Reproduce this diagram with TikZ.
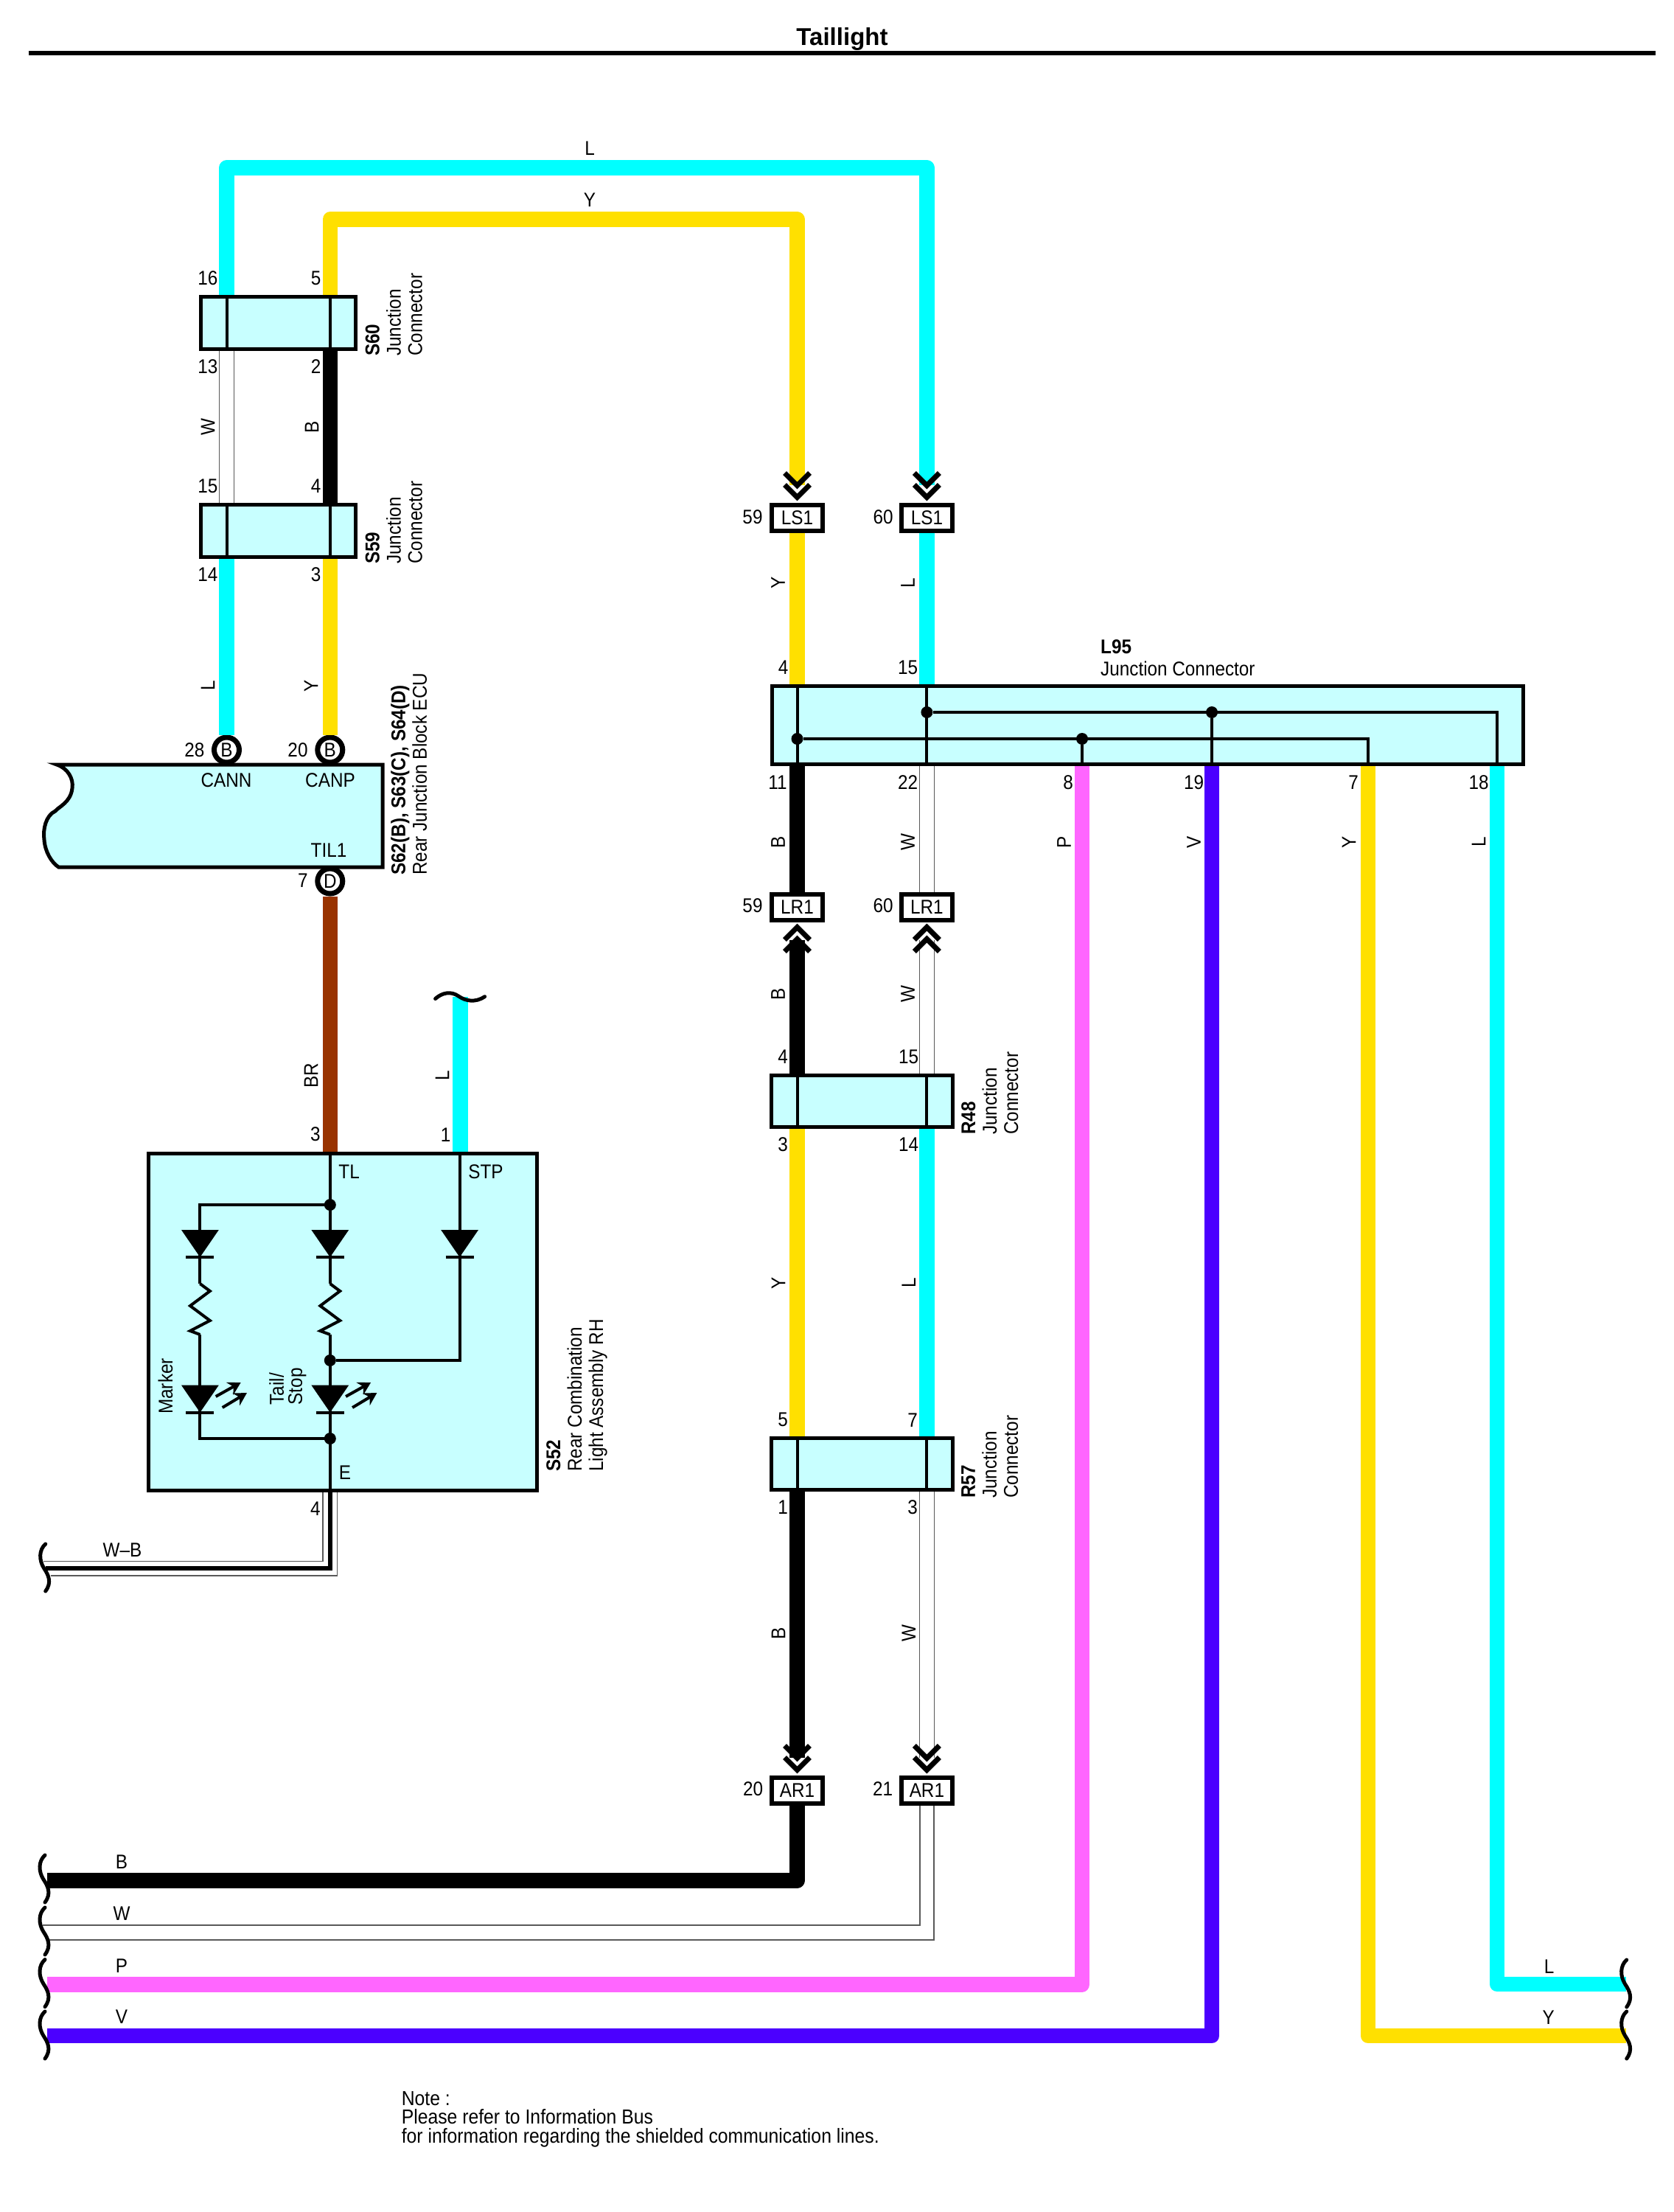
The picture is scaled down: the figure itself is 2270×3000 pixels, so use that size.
\documentclass[tikz,border=0pt]{standalone}
\usepackage{fontspec}
\setmainfont[FakeStretch=0.9]{Liberation Sans}
\newfontfamily\headfont{Liberation Sans}
\usetikzlibrary{arrows.meta}
\definecolor{wirecyan}{HTML}{00FFFF}
\definecolor{wireyellow}{HTML}{FFE000}
\definecolor{wirebrown}{HTML}{993300}
\definecolor{wirepink}{HTML}{FF66FF}
\definecolor{wireviolet}{HTML}{4B00FF}
\definecolor{boxfill}{HTML}{C8FFFF}
\begin{document}
\begin{tikzpicture}[x=1pt,y=-1pt,
    every node/.style = {inner sep=0pt,font=\fontsize{27}{29}\selectfont},
    wire/.style = {line width=20.5pt,line join=round},
    lwire/.style = {wire,wirecyan},
    ywire/.style = {wire,wireyellow},
    bwire/.style = {wire,black},
    brwire/.style = {wire,wirebrown},
    pwire/.style = {wire,wirepink},
    vwire/.style = {wire,wireviolet},
    wwire/.style = {draw=black!65,line width=1.6pt,double=white,double distance=18.5pt},
    thinwire/.style = {black!65,line width=1.6pt},
    inner/.style = {line width=4pt},
    jbox/.style = {draw,line width=5pt,fill=boxfill},
    plug/.style = {draw,line width=6pt,fill=white,minimum width=69pt,minimum height=35pt},
    pinhole/.style = {circle,draw,line width=7pt,fill=white,minimum size=34pt},
    dot/.style = {circle,fill=black,minimum size=16pt},
    wl/.style = {rotate=90},
    side/.style = {rotate=90,anchor=north west,align=left},
    chevdown/.pic = {
        \draw[line width=7pt] (-17,-24) -- (0,-7) -- (17,-24);
        \draw[line width=7pt] (-17,-40) -- (0,-23) -- (17,-40);
    },
    chevup/.pic = {
        \draw[line width=7pt] (-17,24) -- (0,7) -- (17,24);
        \draw[line width=7pt] (-17,40) -- (0,23) -- (17,40);
    },
    diode/.pic = {
        \fill (-25.4,0) -- (25.4,0) -- (0,37) -- cycle;
        \draw[inner] (-19,37) -- (19,37);
    },
    shine/.pic = {
        \draw[line width=4pt,-{Stealth[length=17pt,width=19pt]}] (21.3,15.4) -- (55.3,-3.6);
        \draw[line width=4pt,-{Stealth[length=17pt,width=19pt]}] (30.3,30.4) -- (63.6,10.4);
    },
    cutmark/.pic = {
        \draw[line width=5pt,line cap=round] (0,0) .. controls (-9,8) and (-9,22) .. (-2,33)
            .. controls (4,42) and (9,52) .. (0,64);
    }]
    \useasboundingbox (0,0) rectangle (2270,3000);

    % title
    \node[font=\fontsize{33}{36}\headfont\bfseries] (title) at (1142.5,53) {Taillight};
    \coordinate (ruleL) at (38.5,72.5);
    \coordinate (ruleR) at (2246,72.5);
    \draw[line width=6pt] (ruleL) -- (ruleR);

    % columns
    \coordinate (colA) at (307.5,0);
    \coordinate (colB) at (447.8,0);
    \coordinate (colC) at (623.6,0);
    \coordinate (colD) at (1081.5,0);
    \coordinate (colE) at (1257.4,0);
    \coordinate (colF) at (1468,0);
    \coordinate (colG) at (1644,0);
    \coordinate (colH) at (1856,0);
    \coordinate (colI) at (2031,0);

    % boxes
    \node[jbox,minimum width=210pt,minimum height=71pt] (S60) at (377.5,438) {};
    \node[jbox,minimum width=210pt,minimum height=71pt] (S59) at (377.5,719.5) {};
    \node[jbox,minimum width=246pt,minimum height=70pt] (R48) at (1169.5,1493.5) {};
    \node[jbox,minimum width=246pt,minimum height=70pt] (R57) at (1169.5,1985.8) {};
    \node[jbox,minimum width=1019pt,minimum height=106pt] (L95) at (1557,983.5) {};
    \node[jbox,minimum width=527.5pt,minimum height=456.5pt] (S52) at (465.2,1792.8) {};
    \draw[jbox] (519,1037) -- (77,1037) .. controls (92,1042) and (100,1056) .. (98,1069)
        .. controls (96,1088) and (80,1094) .. (75,1100) .. controls (62,1106) and (58,1125) .. (60,1139)
        .. controls (61,1155) and (70,1170) .. (79.5,1176) -- (519,1176) -- cycle;

    % plugs
    \node[plug] (LS1a) at (1081.5,702) {LS1};
    \node[plug] (LS1b) at (1257.4,702) {LS1};
    \node[plug] (LR1a) at (1081.5,1230) {LR1};
    \node[plug] (LR1b) at (1257.4,1230) {LR1};
    \node[plug] (AR1a) at (1081.5,2428) {AR1};
    \node[plug] (AR1b) at (1257.4,2428) {AR1};
    \node[pinhole] (pinB1) at (307.5,1017) {B};
    \node[pinhole] (pinB2) at (447.8,1017) {B};
    \node[pinhole] (pinD) at (447.8,1195) {D};

    % wire corners
    \coordinate (cyanTL) at (307.5,227.5);
    \coordinate (cyanTR) at (1257.4,227.5);
    \coordinate (yelTL) at (447.8,297.5);
    \coordinate (yelTR) at (1081.5,297.5);
    \coordinate (LS1aIn) at ([yshift=24pt]LS1a.north);
    \coordinate (LS1bIn) at ([yshift=24pt]LS1b.north);
    \coordinate (AR1aIn) at ([yshift=24pt]AR1a.north);
    \coordinate (AR1bIn) at ([yshift=24pt]AR1b.north);
    \coordinate (LR1aIn) at ([yshift=-24pt]LR1a.south);
    \coordinate (LR1bIn) at ([yshift=-24pt]LR1b.south);
    \coordinate (cutL) at (624.6,1352);
    \coordinate (blackEnd) at (64,2550.3);
    \coordinate (pinkEnd) at (64,2691.3);
    \coordinate (violetEnd) at (64,2761);
    \coordinate (cyanEnd) at (2206,2691);
    \coordinate (yelEnd) at (2206,2761);

    % wires
    \draw[lwire] (colA |- S60.north) -- (cyanTL) -- (cyanTR) -- (LS1bIn);
    \draw[ywire] (colB |- S60.north) -- (yelTL) -- (yelTR) -- (LS1aIn);
    \draw[wwire] (colA |- S60.south) -- (colA |- S59.north);
    \draw[bwire] (colB |- S60.south) -- (colB |- S59.north);
    \draw[lwire] (colA |- S59.south) -- (pinB1.north);
    \draw[ywire] (colB |- S59.south) -- (pinB2.north);
    \draw[brwire] (pinD.south) -- (colB |- S52.north);
    \draw[lwire] (cutL) -- (cutL |- S52.north);
    \draw[ywire] (LS1a.south) -- (colD |- L95.north);
    \draw[lwire] (LS1b.south) -- (colE |- L95.north);
    \draw[bwire] (colD |- L95.south) -- (LR1a.north);
    \draw[wwire] (colE |- L95.south) -- (LR1b.north);
    \draw[bwire] (LR1aIn) -- (colD |- R48.north);
    \draw[wwire] (LR1bIn) -- (colE |- R48.north);
    \draw[ywire] (colD |- R48.south) -- (colD |- R57.north);
    \draw[lwire] (colE |- R48.south) -- (colE |- R57.north);
    \draw[bwire] (colD |- R57.south) -- (AR1aIn);
    \draw[wwire] (colE |- R57.south) -- (AR1bIn);
    \draw[bwire] (AR1a.south) -- (colD |- blackEnd) -- (blackEnd);
    \draw[pwire] (colF |- L95.south) -- (colF |- pinkEnd) -- (pinkEnd);
    \draw[vwire] (colG |- L95.south) -- (colG |- violetEnd) -- (violetEnd);
    \draw[ywire] (colH |- L95.south) -- (colH |- yelEnd) -- (yelEnd);
    \draw[lwire] (colI |- L95.south) -- (colI |- cyanEnd) -- (cyanEnd);

    % chevrons
    \pic at (LS1a.north) {chevdown};
    \pic at (LS1b.north) {chevdown};
    \pic at (AR1a.north) {chevdown};
    \pic at (AR1b.north) {chevdown};
    \pic at (LR1a.south) {chevup};
    \pic at (LR1b.south) {chevup};

    % white lines with slanted ends
    \coordinate (arUp) at (1248,0);
    \coordinate (arDn) at (1267,0);
    \coordinate (whiteA) at (58,2611);
    \coordinate (whiteB) at (67,2630.7);
    \draw[thinwire] (AR1b.south -| arUp) |- (whiteA);
    \draw[thinwire] (AR1b.south -| arDn) |- (whiteB);
    \coordinate (gndUp) at (438,0);
    \coordinate (gndDn) at (457.6,0);
    \coordinate (gndA) at (59,2117.3);
    \coordinate (gndB) at (62,2127);
    \coordinate (gndC) at (69,2137);
    \draw[thinwire] (S52.south -| gndUp) |- (gndA);
    \draw[thinwire] (S52.south -| gndDn) |- (gndC);
    \draw[line width=5.5pt] (colB |- S52.south) |- (gndB);

    % inside the plug boxes
    \draw[inner] (colA |- S60.north) -- (colA |- S60.south);
    \draw[inner] (colB |- S60.north) -- (colB |- S60.south);
    \draw[inner] (colA |- S59.north) -- (colA |- S59.south);
    \draw[inner] (colB |- S59.north) -- (colB |- S59.south);
    \draw[inner] (colD |- R48.north) -- (colD |- R48.south);
    \draw[inner] (colE |- R48.north) -- (colE |- R48.south);
    \draw[inner] (colD |- R57.north) -- (colD |- R57.south);
    \draw[inner] (colE |- R57.north) -- (colE |- R57.south);

    % inside L95
    \node[dot] (d95a) at (1081.5,1002) {};
    \node[dot] (d95b) at (1257.4,966) {};
    \node[dot] (d95c) at (1468,1002) {};
    \node[dot] (d95d) at (1644,966) {};
    \draw[inner] (colD |- L95.north) -- (colD |- L95.south);
    \draw[inner] (colE |- L95.north) -- (colE |- L95.south);
    \draw[inner] (d95c) -- (colF |- L95.south);
    \draw[inner] (d95d) -- (colG |- L95.south);
    \draw[inner] (d95a) -| (colH |- L95.south);
    \draw[inner] (d95b) -| (colI |- L95.south);

    % inside S52
    \coordinate (branch) at (271.4,0);
    \node[dot] (tlDot) at (447.8,1634) {};
    \node[dot] (stpDot) at (447.8,1845) {};
    \node[dot] (eDot) at (447.8,1951) {};
    \coordinate (res1top) at (271.4,1741);
    \coordinate (res1bot) at (271.4,1810);
    \coordinate (res2top) at (447.8,1741);
    \coordinate (res2bot) at (447.8,1810);
    \draw[inner] (colB |- S52.north) -- (res2top);
    \draw[inner] (res2top) -- ++(13.4,10) -- ++(-26.8,20) -- ++(26.8,20) -- ++(-26.8,14) -- (res2bot);
    \draw[inner] (res2bot) -- (colB |- S52.south);
    \draw[inner] (tlDot) -| (res1top);
    \draw[inner] (res1top) -- ++(13.4,10) -- ++(-26.8,20) -- ++(26.8,20) -- ++(-26.8,14) -- (res1bot);
    \draw[inner] (res1bot) |- (eDot);
    \draw[inner] (colC |- S52.north) |- (stpDot);
    \pic at (271.4,1668) {diode};
    \pic at (447.8,1668) {diode};
    \pic at (623.6,1668) {diode};
    \pic at (271.4,1878.6) {diode};
    \pic at (447.8,1878.6) {diode};
    \pic at (271.4,1878.6) {shine};
    \pic at (447.8,1878.6) {shine};

    % cuts
    \draw[line width=5pt,line cap=round] (590.6,1354.5) .. controls (600,1346) and (612,1344) .. (622,1351)
        .. controls (632,1358) and (645,1360) .. (657.6,1351.7);
    \pic at (61.7,2094) {cutmark};
    \pic at (61,2516) {cutmark};
    \pic at (61,2587) {cutmark};
    \pic at (61,2657.6) {cutmark};
    \pic at (61,2728) {cutmark};
    \pic at (2206.7,2658) {cutmark};
    \pic at (2206.7,2728) {cutmark};

    % pin numbers
    \node (n16) at (282,377) {16};
    \node (n5) at (428.6,377) {5};
    \node (n13) at (282,497) {13};
    \node (n2) at (428.6,497) {2};
    \node (n15) at (282,659) {15};
    \node (n4) at (428.6,659) {4};
    \node (n14) at (282,779) {14};
    \node (n3) at (428.6,779) {3};
    \node (n28) at (264,1017) {28};
    \node (n20) at (404,1017) {20};
    \node (n7) at (411,1194) {7};
    \node (n3b) at (428,1538) {3};
    \node (n1) at (604.5,1539) {1};
    \node (n4b) at (428,2046) {4};
    \node (n59a) at (1021,701) {59};
    \node (n60a) at (1198,701) {60};
    \node (n4c) at (1062.5,905.7) {4};
    \node (n15c) at (1231.6,905.7) {15};
    \node (n11) at (1055,1061) {11};
    \node (n22) at (1231.6,1061) {22};
    \node (n8) at (1449,1061) {8};
    \node (n19) at (1619.6,1061) {19};
    \node (n7c) at (1836,1061) {7};
    \node (n18) at (2006,1061) {18};
    \node (n59b) at (1021,1228) {59};
    \node (n60b) at (1198,1228) {60};
    \node (n4d) at (1062,1433) {4};
    \node (n15d) at (1232.7,1433) {15};
    \node (n3d) at (1062,1551.7) {3};
    \node (n14d) at (1232.7,1551.7) {14};
    \node (n5d) at (1062,1925.7) {5};
    \node (n7d) at (1238,1925.7) {7};
    \node (n1d) at (1062,2044.5) {1};
    \node (n3e) at (1238,2044.5) {3};
    \node (n20e) at (1021.7,2426) {20};
    \node (n21e) at (1197.7,2426) {21};

    % wire colours
    \node (wlTop) at (800,201) {L};
    \node (wyTop) at (800,271) {Y};
    \node[wl] (wW1) at (282,579) {W};
    \node[wl] (wB1) at (423,579) {B};
    \node[wl] (wL1) at (282,930) {L};
    \node[wl] (wY1) at (422,930) {Y};
    \node[wl] (wBR) at (422,1459) {BR};
    \node[wl] (wL2) at (600,1459) {L};
    \node (wWB) at (166,2102) {W--B};
    \node[wl] (wY2) at (1055.6,790.5) {Y};
    \node[wl] (wL3) at (1231.6,790.5) {L};
    \node[wl] (wB3) at (1055.6,1142) {B};
    \node[wl] (wW3) at (1231.6,1142) {W};
    \node[wl] (wP3) at (1443.6,1142) {P};
    \node[wl] (wV3) at (1619.6,1142) {V};
    \node[wl] (wY3) at (1830,1142) {Y};
    \node[wl] (wL4) at (2006,1142) {L};
    \node[wl] (wB4) at (1055.6,1348) {B};
    \node[wl] (wW4) at (1231.6,1348) {W};
    \node[wl] (wY4) at (1056,1740) {Y};
    \node[wl] (wL5) at (1232.7,1740) {L};
    \node[wl] (wB5) at (1056,2215.4) {B};
    \node[wl] (wW5) at (1232.7,2215.4) {W};
    \node (wB6) at (165,2525) {B};
    \node (wW6) at (165,2595.4) {W};
    \node (wP6) at (165,2666) {P};
    \node (wV6) at (165,2735.6) {V};
    \node (wL7) at (2101.7,2666.7) {L};
    \node (wY7) at (2100.7,2736) {Y};

    % terminals inside the boxes
    \node (tCANN) at (307,1058) {CANN};
    \node (tCANP) at (448,1058) {CANP};
    \node (tTIL) at (446,1153) {TIL1};
    \node (tTL) at (473.6,1589) {TL};
    \node (tSTP) at (659,1589) {STP};
    \node (tE) at (468,1997.5) {E};
    \node[wl] (tMarker) at (224.5,1880) {Marker};
    \node[side] (tTail) at (365,1905.6) {Tail/\\[-4pt]Stop};

    % part names
    \node[side] (lS60) at (495.5,483) {\textbf{S60}\\Junction\\Connector};
    \node[side] (lS59) at (495.5,765) {\textbf{S59}\\Junction\\Connector};
    \node[side] (lECU) at (530,1187) {\textbf{S62(B), S63(C), S64(D)}\\Rear Junction Block ECU};
    \node[side] (lS52) at (741,1996) {\textbf{S52}\\Rear Combination\\Light Assembly RH};
    \node[side] (lR48) at (1304,1539) {\textbf{R48}\\Junction\\Connector};
    \node[side] (lR57) at (1304,2032) {\textbf{R57}\\Junction\\Connector};
    \node[anchor=north west,align=left] (lL95) at (1493,867) {\textbf{L95}\\[1pt]Junction Connector};

    % note
    \node[anchor=north west,align=left,font=\fontsize{27.5}{25.5}\selectfont] (note) at (544.6,2836)
        {Note :\\Please refer to Information Bus\\for information regarding the shielded communication lines.};
\end{tikzpicture}
\end{document}
